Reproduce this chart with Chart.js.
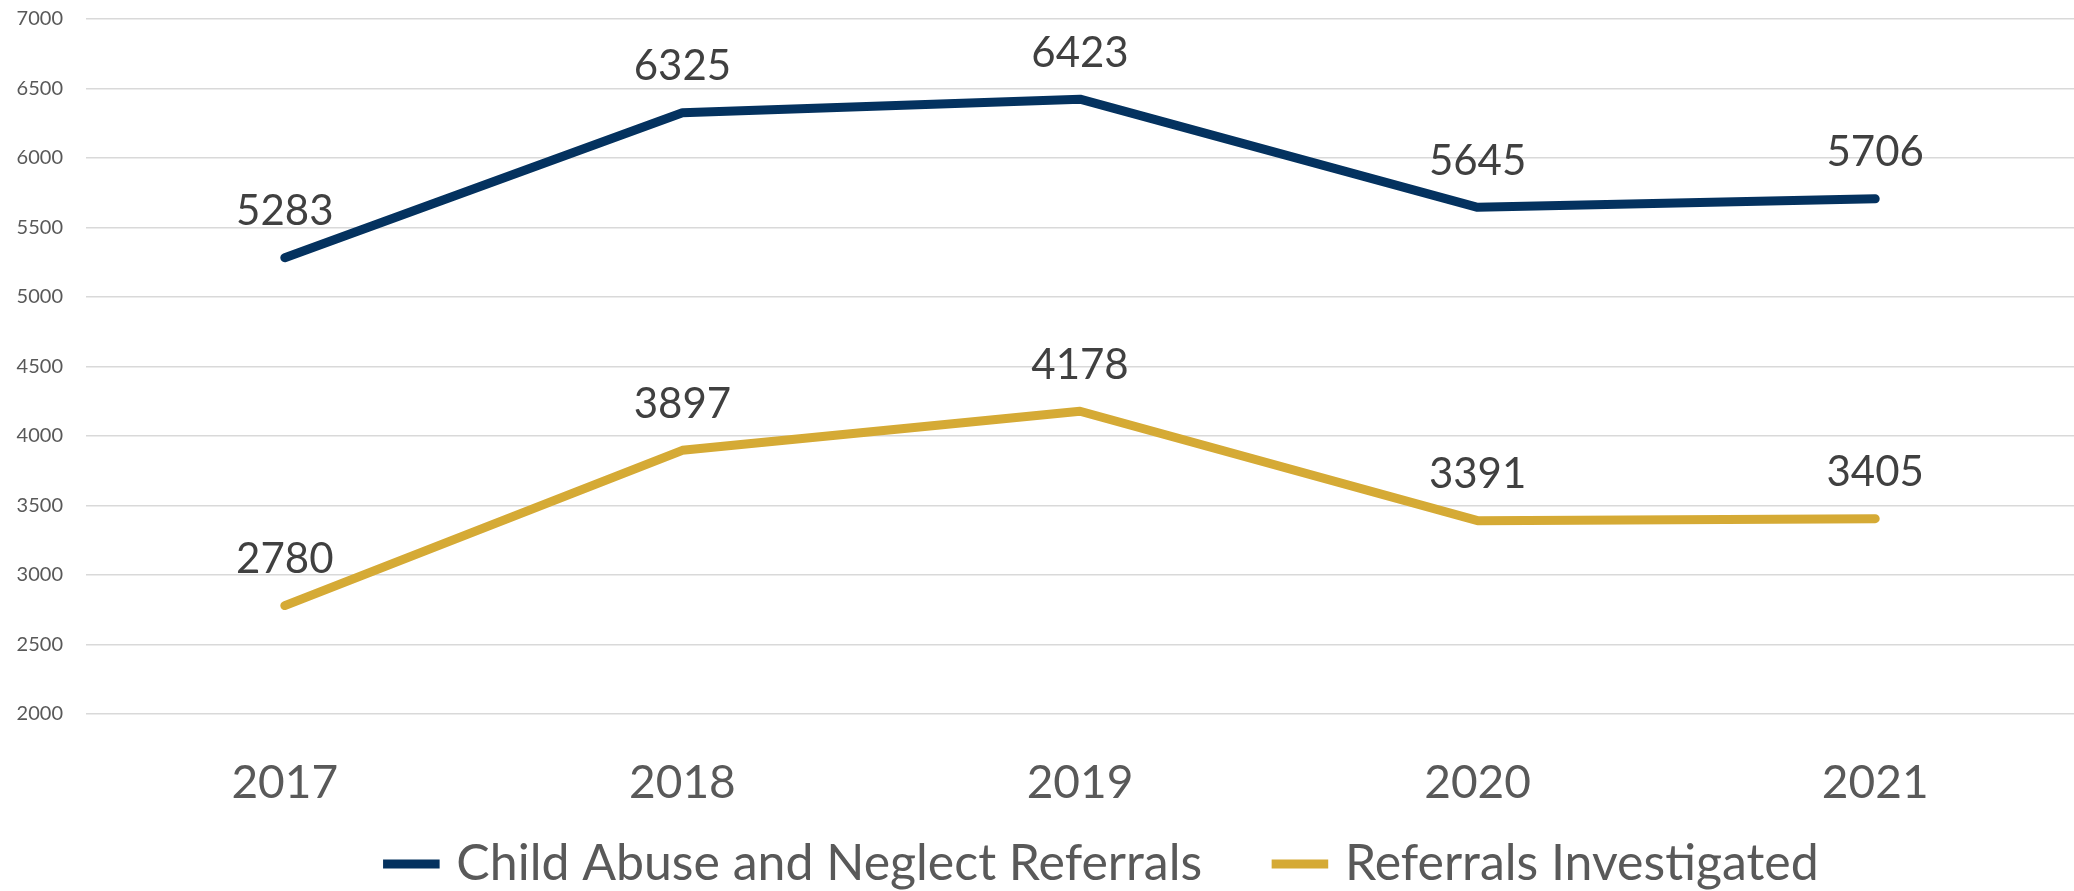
<!DOCTYPE html>
<html>
<head>
<meta charset="utf-8">
<script src="https://cdn.jsdelivr.net/npm/chart.js@4"></script>
<style>
  html, body { margin: 0; padding: 0; background: #ffffff; }
  #wrap { width: 2074px; height: 891px; }
</style>
</head>
<body>
<div id="wrap"><canvas id="referrals-line"></canvas></div>
<script>
// Chart data
const years = ['2017', '2018', '2019', '2020', '2021'];
const referrals = [5283, 6325, 6423, 5645, 5706];
const investigated = [2780, 3897, 4178, 3391, 3405];
const seriesNames = ['Child Abuse and Neglect Referrals', 'Referrals Investigated'];
const seriesColors = ['#04325F', '#D5AA35'];

// Draw the value above each point
const valueLabels = {
    id: 'valueLabels',
    afterDatasetsDraw(chart) {
        const ctx = chart.ctx;
        ctx.save();
        ctx.font = '42px Lato';
        ctx.fillStyle = '#404040';
        ctx.textAlign = 'center';
        ctx.textBaseline = 'middle';
        chart.data.datasets.forEach((ds, i) => {
            const meta = chart.getDatasetMeta(i);
            meta.data.forEach((pt, j) => {
                ctx.fillText(String(ds.data[j]), pt.x, pt.y - 46);
            });
        });
        ctx.restore();
    }
};

// Nudge the legend right and down, like the original
const legendShift = {
    id: 'legendShift',
    afterLayout(chart) {
        chart.legend.left += 68;
        chart.legend.right += 68;
        chart.legend.top += 8;
        chart.legend.bottom += 8;
    }
};

new Chart(document.getElementById('referrals-line'), {
    type: 'line',
    plugins: [valueLabels, legendShift],
    data: {
        labels: years,
        datasets: [
            {
                label: seriesNames[0],
                data: referrals,
                borderColor: seriesColors[0],
                backgroundColor: seriesColors[0],
                borderWidth: 9,
                borderCapStyle: 'round',
                borderJoinStyle: 'round',
                pointRadius: 0,
                tension: 0
            },
            {
                label: seriesNames[1],
                data: investigated,
                borderColor: seriesColors[1],
                backgroundColor: seriesColors[1],
                borderWidth: 9,
                borderCapStyle: 'round',
                borderJoinStyle: 'round',
                pointRadius: 0,
                tension: 0
            }
        ]
    },
    options: {
        responsive: true,
        maintainAspectRatio: false,
        animation: false,
        layout: {
            padding: { top: 19, right: 0, bottom: 0, left: 0 }
        },
        scales: {
            x: {
                offset: true,
                grid: { display: false },
                border: { display: false },
                afterFit: (scale) => { scale.height = 116; },
                ticks: {
                    color: '#595959',
                    padding: 34,
                    font: { family: 'Lato', size: 46 }
                }
            },
            y: {
                min: 2000,
                max: 7000,
                border: { display: false },
                grid: { color: '#D9D9D9', lineWidth: 1.5, drawTicks: false },
                afterFit: (scale) => {
                    scale.width = 86;
                    scale.paddingTop = 0;
                },
                ticks: {
                    stepSize: 500,
                    color: '#595959',
                    padding: 23,
                    font: { family: 'Lato', size: 20 },
                    callback: (v) => String(v)
                }
            }
        },
        plugins: {
            legend: {
                position: 'bottom',
                labels: {
                    usePointStyle: true,
                    pointStyle: 'line',
                    boxWidth: 40,
                    boxHeight: 40,
                    padding: 1,
                    color: '#595959',
                    font: { family: 'Lato', size: 50, lineHeight: 1 },
                    // extra room after the first entry
                    generateLabels: (chart) => {
                        const items = Chart.defaults.plugins.legend.labels.generateLabels(chart);
                        items[0].text = items[0].text + '      ';
                        return items;
                    }
                }
            },
            tooltip: { enabled: false }
        }
    }
});
</script>
</body>
</html>
